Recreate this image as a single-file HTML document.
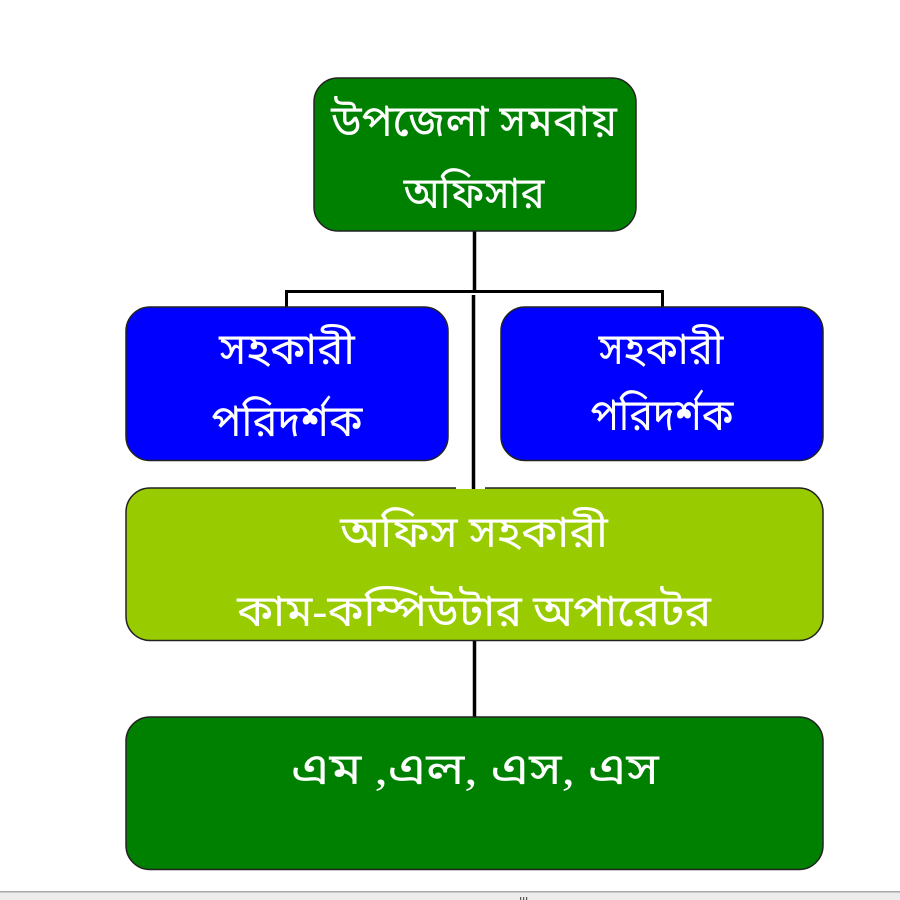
<!DOCTYPE html>
<html>
<head>
<meta charset="utf-8">
<style>
html,body{margin:0;padding:0;background:#fff;}
#c{position:relative;width:900px;height:900px;overflow:hidden;background:#fff;font-family:"Liberation Serif","Noto Sans Bengali","Lohit Bengali","Noto Sans CJK SC",serif;}
svg{position:absolute;left:0;top:0;}
text{font-family:"Liberation Serif","Noto Sans Bengali","Lohit Bengali","Noto Sans CJK SC",serif;fill:#fff;text-anchor:middle;font-size:44px;}
</style>
</head>
<body>
<div id="c">
<svg width="900" height="900" viewBox="0 0 900 900" xmlns="http://www.w3.org/2000/svg">
<rect x="0" y="0" width="900" height="900" fill="#fff"/>
<!-- connectors -->
<g fill="none" stroke="#000">
<path d="M474.500 231V291" stroke-width="3.500"/>
<path d="M286.500 307V291.500H662.500V307" stroke-width="3"/>
<path d="M473.500 295V488" stroke-width="3.500"/>
<path d="M474.500 640V717" stroke-width="3.500"/>
</g>
<!-- nodes -->
<rect x="314" y="78" width="322" height="153" rx="24" fill="#008000" stroke="#222" stroke-width="1.500"/>
<rect x="126" y="307" width="322" height="153.500" rx="24" fill="#0000ff" stroke="#222" stroke-width="1.500"/>
<rect x="501" y="307" width="322" height="153.500" rx="24" fill="#0000ff" stroke="#222" stroke-width="1.500"/>
<rect x="126" y="488" width="697" height="152.500" rx="24" fill="#99cc00" stroke="#222" stroke-width="1.500"/>
<rect x="456" y="484" width="29" height="5" fill="#fff"/>
<rect x="471.750" y="484" width="3.500" height="5" fill="#000"/>
<rect x="126" y="717" width="697" height="152.500" rx="24" fill="#008000" stroke="#222" stroke-width="1.500"/>
<!-- labels -->
<text x="474" y="136" textLength="286" lengthAdjust="spacingAndGlyphs">উপজেলা সমবায়</text>
<text x="474" y="208" textLength="141" lengthAdjust="spacingAndGlyphs">অফিসার</text>
<text x="287" y="364" textLength="136" lengthAdjust="spacingAndGlyphs">সহকারী</text>
<text x="287" y="436" textLength="151" lengthAdjust="spacingAndGlyphs">পরিদর্শক</text>
<text x="661" y="364" textLength="125" lengthAdjust="spacingAndGlyphs">সহকারী</text>
<text x="662" y="430" textLength="143" lengthAdjust="spacingAndGlyphs">পরিদর্শক</text>
<text x="474" y="547" textLength="268" lengthAdjust="spacingAndGlyphs">অফিস সহকারী</text>
<text x="474" y="626" textLength="474" lengthAdjust="spacingAndGlyphs">কাম-কম্পিউটার অপারেটর</text>
<text x="475" y="784" textLength="368" lengthAdjust="spacingAndGlyphs">এম ,এল, এস, এস</text>
<!-- bottom bar -->
<rect x="0" y="891" width="900" height="9" fill="#ececec"/>
<rect x="0" y="891" width="900" height="1.500" fill="#a8a8a8"/>
<rect x="520" y="897" width="1.200" height="3" fill="#555"/>
<rect x="523" y="897" width="1.200" height="3" fill="#555"/>
<rect x="526" y="897" width="1.200" height="3" fill="#555"/>
</svg>
</div>
</body>
</html>
